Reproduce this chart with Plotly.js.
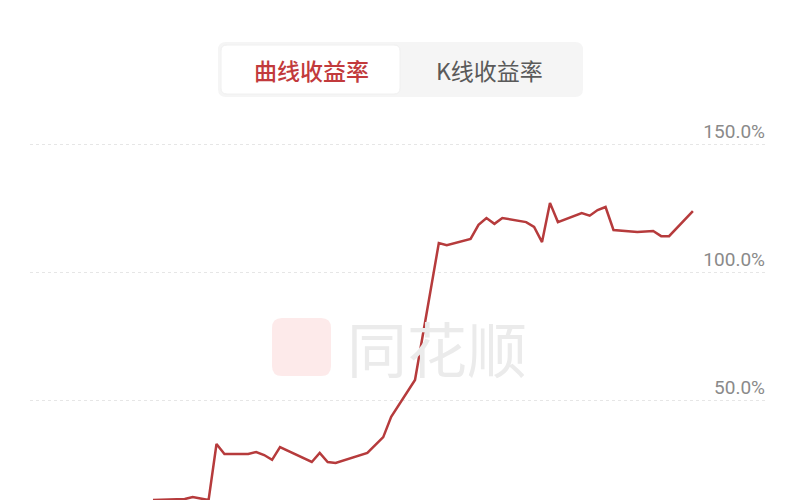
<!DOCTYPE html>
<html>
<head>
<meta charset="utf-8">
<script src="https://cdn.plot.ly/plotly-3.0.1.min.js"></script>
<style>
html,body{margin:0;padding:0;background:#fff;}
#chart{width:800px;height:500px;}
</style>
</head>
<body>
<div id="chart"></div>
<script>
// Trading-day index and cumulative return (%)
const days = [0,4,5,7,8,9,12,13,14,15,16,20,21,22,23,27,29,30,33,36,37,40,41,42,43,44,47,48,49,50,51,54,55,56,57,58,61,63,64,65,68];
const returns = [10.9,11.3,12.1,10.9,32.8,28.9,28.9,29.7,28.5,26.6,31.6,25.8,29.3,25.8,25.4,29.3,35.5,43.4,57.8,111.3,110.5,112.9,118.4,121.1,118.8,121.1,119.5,117.6,111.7,127.0,119.5,123.0,122.0,124.2,125.4,116.4,115.6,116.0,114.0,114.0,123.8];
const tickValues = [50,100,150];
const tickLabels = ['50.0%','100.0%','150.0%'];
const tabLabels = ['曲线收益率','K线收益率'];
const watermark = '同花顺';

const W = 800, H = 500, ML = 30, MR = 32;
const pw = W - ML - MR;
const px = x => (x - ML) / pw;      // pixel -> paper x
const py = y => 1 - y / H;           // pixel -> paper y

function roundRect(x0, y0, x1, y1, r) {
  const X0 = px(x0), X1 = px(x1), Y0 = py(y0), Y1 = py(y1);
  const rx = r / pw, ry = r / H;
  return `M${X0+rx},${Y0} L${X1-rx},${Y0} Q${X1},${Y0} ${X1},${Y0-ry} L${X1},${Y1+ry} Q${X1},${Y1} ${X1-rx},${Y1} L${X0+rx},${Y1} Q${X0},${Y1} ${X0},${Y1+ry} L${X0},${Y0-ry} Q${X0},${Y0} ${X0+rx},${Y0} Z`;
}

const trace = {
  x: days, y: returns, type: 'scatter', mode: 'lines',
  line: {color: '#b63b3c', width: 2.5, shape: 'linear'},
  hoverinfo: 'skip'
};

const layout = {
  width: W, height: H,
  margin: {l: ML, r: MR, t: 0, b: 0, pad: 0},
  paper_bgcolor: '#fff', plot_bgcolor: '#fff',
  showlegend: false,
  xaxis: {range: [-15.49, 77.46], visible: false, fixedrange: true},
  yaxis: {
    range: [10.94, 206.25], side: 'right',
    tickvals: tickValues, ticktext: tickLabels,
    ticklabelposition: 'inside', ticklabelshift: -13,
    tickfont: {family: 'Roboto, "Noto Sans", sans-serif', size: 19, color: '#8a8a8a'},
    showgrid: true, gridcolor: '#e6e6e6', gridwidth: 1, griddash: 'dot',
    zeroline: false, showline: false, ticks: '', fixedrange: true
  },
  shapes: [
    {type: 'path', xref: 'paper', yref: 'paper', path: roundRect(218, 42, 583, 97, 8),
     fillcolor: '#f5f5f5', line: {width: 0}, layer: 'above'},
    {type: 'path', xref: 'paper', yref: 'paper', path: roundRect(221, 45, 400, 94, 6),
     fillcolor: '#ffffff', line: {color: '#f0f0f0', width: 1}, layer: 'above'},
    {type: 'path', xref: 'paper', yref: 'paper', path: roundRect(272, 318, 331, 376, 10),
     fillcolor: '#fdeaea', line: {width: 0}, layer: 'below'}
  ],
  annotations: [
    {xref: 'paper', yref: 'paper', x: px(311), y: py(70), text: tabLabels[0],
     showarrow: false, xanchor: 'center', yanchor: 'middle',
     font: {family: '"Noto Sans CJK SC", sans-serif', size: 23, weight: 500, color: '#c23a3c'}},
    {xref: 'paper', yref: 'paper', x: px(489), y: py(70), text: tabLabels[1],
     showarrow: false, xanchor: 'center', yanchor: 'middle',
     font: {family: '"Noto Sans CJK SC", sans-serif', size: 23, color: '#5a5a5a'}},
    {xref: 'paper', yref: 'paper', x: px(437), y: py(346), text: watermark,
     showarrow: false, xanchor: 'center', yanchor: 'middle',
     font: {family: '"Noto Sans CJK SC", sans-serif', size: 60, color: '#ebebeb'}}
  ]
};

Plotly.newPlot('chart', [trace], layout, {staticPlot: true, displayModeBar: false});
</script>
</body>
</html>
